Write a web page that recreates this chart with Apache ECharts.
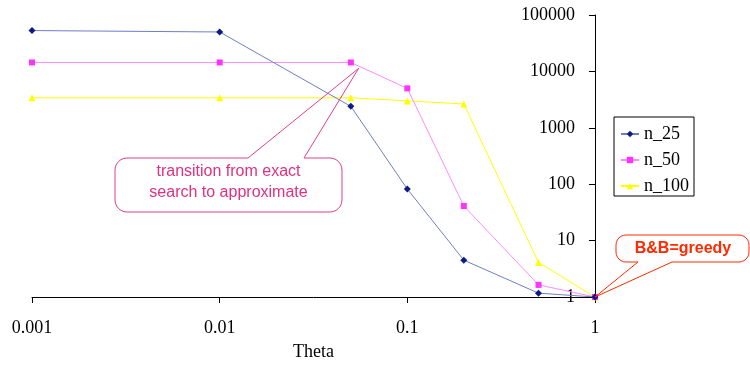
<!DOCTYPE html>
<html>
<head>
<meta charset="utf-8">
<script src="https://cdn.jsdelivr.net/npm/echarts@6/dist/echarts.min.js"></script>
<style>
html,body{margin:0;padding:0;background:#fff;}
#chart{width:750px;height:366px;}
</style>
</head>
<body>
<div id="chart"></div>
<script>
// ---- data ----
var theta = [0.001, 0.01, 0.05, 0.1, 0.2, 0.5, 1];
var n25  = [53000, 50000, 2400, 82, 4.5, 1.17, 1];
var n50  = [14400, 14400, 14400, 5000, 41, 1.64, 1];
var n100 = [3400, 3400, 3400, 3000, 2640, 4.1, 1];
var seriesNames = ['n_25', 'n_50', 'n_100'];
var xTickLabels = ['0.001', '0.01', '0.1', '1'];
var yTickLabels = ['1', '10', '100', '1000', '10000', '100000'];
var xAxisTitle = 'Theta';
var calloutTransition = ['transition from exact', 'search to approximate'];
var calloutGreedy = 'B&B=greedy';
var transitionTip = [0.055, 11300];
var greedyTip = [1, 1];

function pairs(xs, ys) { return xs.map(function (x, i) { return [x, ys[i]]; }); }

var serif = '"Liberation Serif","Times New Roman",serif';
var sans = '"Liberation Sans",Arial,sans-serif';

var chart = echarts.init(document.getElementById('chart'), null, {renderer: 'canvas'});
var option = {
  backgroundColor: '#ffffff',
  animation: false,
  grid: {left: 32, right: 155, top: 15, bottom: 66, containLabel: false},
  legend: {
    orient: 'vertical',
    left: 614, top: 117,
    padding: [8, 5, 1, 6],
    itemGap: 8,
    itemWidth: 18, itemHeight: 8,
    borderColor: '#000', borderWidth: 1,
    textStyle: {fontFamily: serif, fontSize: 18, color: '#000'},
    data: seriesNames
  },
  xAxis: {
    type: 'log', logBase: 10, min: 0.001, max: 1,
    name: xAxisTitle, nameLocation: 'middle', nameGap: 46,
    nameTextStyle: {fontFamily: serif, fontSize: 18, color: '#000'},
    axisLine: {lineStyle: {color: '#000', width: 1}},
    axisTick: {show: true, length: 6, lineStyle: {color: '#000'}},
    splitLine: {show: false},
    axisLabel: {
      margin: 22, fontFamily: serif, fontSize: 18, color: '#000',
      formatter: function (v) { return xTickLabels[Math.round(Math.log10(v)) + 3]; }
    }
  },
  yAxis: {
    type: 'log', logBase: 10, min: 1, max: 100000,
    position: 'right',
    axisLine: {show: true, lineStyle: {color: '#000', width: 1}},
    axisTick: {show: true, inside: true, length: 6, lineStyle: {color: '#000'}},
    splitLine: {show: false},
    axisLabel: {
      inside: true, margin: 20, fontFamily: serif, fontSize: 18, color: '#000',
      formatter: function (v) { return yTickLabels[Math.round(Math.log10(v))]; }
    }
  },
  series: [
    {name: seriesNames[0], type: 'line', data: pairs(theta, n25), symbol: 'diamond', symbolSize: 7,
     lineStyle: {color: '#6f7ec8', width: 1}, itemStyle: {color: '#0c1a85'}, z: 3},
    {name: seriesNames[1], type: 'line', data: pairs(theta, n50), symbol: 'rect', symbolSize: 6,
     lineStyle: {color: '#ff8cff', width: 1}, itemStyle: {color: '#ff33ff'}, z: 2},
    {name: seriesNames[2], type: 'line', data: pairs(theta, n100), symbol: 'triangle', symbolSize: 7,
     lineStyle: {color: '#ffff00', width: 1}, itemStyle: {color: '#ffff00'}, z: 1}
  ]
};
chart.setOption(option);

var tp = chart.convertToPixel({gridIndex: 0}, transitionTip);
var gp = chart.convertToPixel({gridIndex: 0}, greedyTip);

// rounded-rect callout outline with a wedge on the top or bottom edge
function callout(x0, y0, x1, y1, r, side, b0, b1, tip) {
  var pts = [];
  function arc(cx, cy, a0, a1) {
    for (var i = 0; i <= 6; i++) {
      var a = a0 + (a1 - a0) * i / 6;
      pts.push([cx + r * Math.cos(a), cy + r * Math.sin(a)]);
    }
  }
  var PI = Math.PI;
  arc(x0 + r, y0 + r, PI, 1.5 * PI);
  if (side === 'top') { pts.push([b0, y0], tip, [b1, y0]); }
  arc(x1 - r, y0 + r, 1.5 * PI, 2 * PI);
  arc(x1 - r, y1 - r, 0, 0.5 * PI);
  if (side === 'bottom') { pts.push([b1, y1], tip, [b0, y1]); }
  arc(x0 + r, y1 - r, 0.5 * PI, PI);
  return pts;
}

var pink = '#e0408a';
var red = '#ff2a00';
var pinkPts = callout(115, 158, 342, 212, 12, 'top', 248, 304, tp);
var redPts = callout(616, 235, 749, 262, 10, 'bottom', 638, 672, gp);

chart.setOption({
  graphic: [
    {type: 'polygon', z: 100, shape: {points: pinkPts}, style: {fill: 'rgba(255,255,255,0)', stroke: pink, lineWidth: 1}},
    {type: 'text', z: 101, x: 228.5, y: 172, style: {text: calloutTransition[0], fill: '#e0307f', font: '16px ' + sans, textAlign: 'center', textVerticalAlign: 'middle'}},
    {type: 'text', z: 101, x: 228.5, y: 193, style: {text: calloutTransition[1], fill: '#e0307f', font: '16px ' + sans, textAlign: 'center', textVerticalAlign: 'middle'}},
    {type: 'polygon', z: 100, shape: {points: redPts}, style: {fill: 'rgba(255,255,255,0)', stroke: red, lineWidth: 1}},
    {type: 'text', z: 101, x: 683, y: 249, style: {text: calloutGreedy, fill: red, font: 'bold 16px ' + sans, textAlign: 'center', textVerticalAlign: 'middle'}}
  ]
});
</script>
</body>
</html>
